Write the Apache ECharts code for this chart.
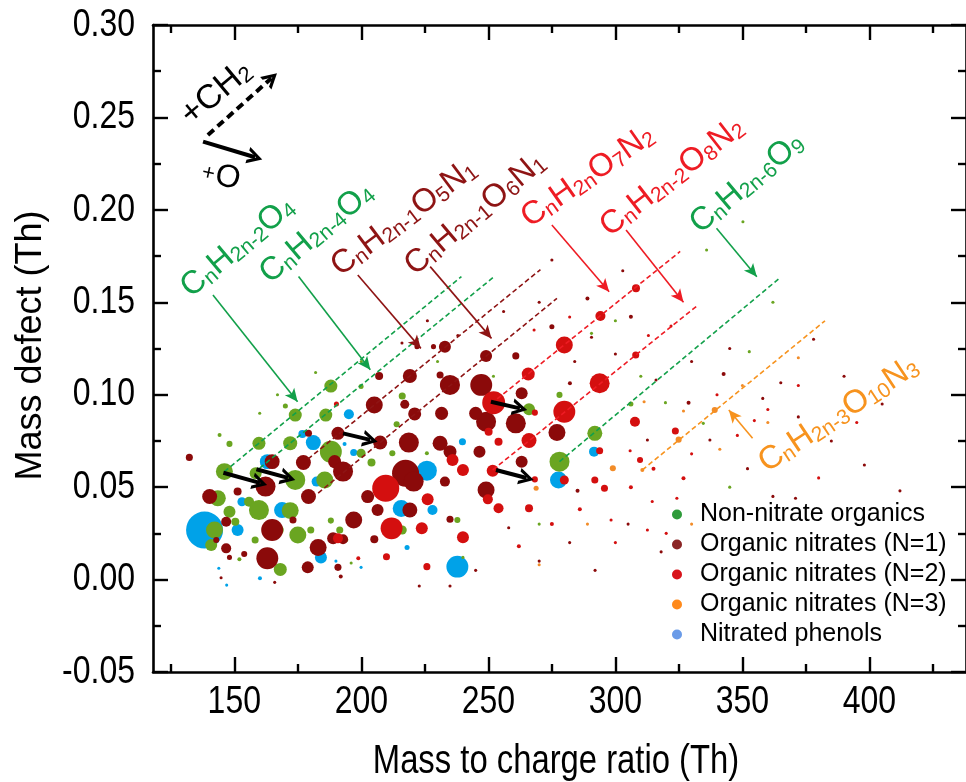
<!DOCTYPE html>
<html>
<head>
<meta charset="utf-8">
<title>Mass defect plot</title>
<script src="https://cdn.jsdelivr.net/npm/echarts@6/dist/echarts.min.js"></script>
<style>
html, body { margin: 0; padding: 0; background: #fff; }
#chart { width: 966px; height: 782px; }
</style>
</head>
<body>
<div id="chart"></div>
<script>
// values: [m/z (Th), mass defect (Th), relative signal]
var nonNitrate = [
  [146.1,0.0584,18],[148.1,0.0734,2.3],[144.2,0.0782,1],[159.7,0.0737,10.6],[172.0,0.0737,12.3],
  [174.0,0.0890,10.6],[170.1,0.0939,1.6],[188.0,0.1047,10.6],[186.0,0.0890,10.6],[188.0,0.0692,30],
  [185.6,0.0539,18],[174.0,0.0539,25],[158.4,0.0575,9],[199.9,0.1044,1.6],[216.1,0.0993,3.1],
  [213.9,0.0840,2.3],[199.9,0.0683,5.1],[204.0,0.0633,4],[212.2,0.0683,2.3],[143.5,0.0440,16],
  [148.1,0.0367,9],[142.2,0.0268,18],[140.9,0.0187,9],[150.4,0.0313,4],[155.8,0.0421,6.3],
  [159.7,0.0376,25],[172.0,0.0373,18],[167.5,0.0268,6.3],[158.2,0.0214,3.1],[168.1,0.0055,10.6],
  [175.0,0.0241,18],[180.1,0.0268,3.1],[188.0,0.0319,2.3],[191.5,0.0268,3.1],[194.1,0.0214,1],
  [216.1,0.0268,5.1],[237.8,0.0322,2.3],[152.0,0.0110,1],
  [266.0,0.0921,9],[278.0,0.0638,25],[291.9,0.0791,14],[278.0,0.0999,2.3],[225.8,0.0683,1],
  [319.7,0.0957,0.6],[352.7,0.1233,0.6],[306.1,0.0950,1.6],[334.6,0.0845,0.6],[335.9,0.1783,0.6],
  [350.2,0.1936,0.6],[290.6,0.1332,0.6],
  [200,0.118,0.6],[182,0.112,0.6],[160,0.090,0.6],[252,0.110,0.6],[310,0.110,0.6],[362,0.150,0.6],
  [300,0.140,0.6],[270,0.030,0.6],[240,0.012,0.6],[196,0.009,0.6],[345,0.050,0.6],[230,0.118,0.6],
  [167,0.100,0.6]
];
var nitrateN1 = [
  [132.3,0.0661,3.1],[164.9,0.0638,14],[179.2,0.0791,3.1],[190.8,0.0791,10.6],[177.2,0.0633,14],
  [189.5,0.0638,10.6],[192.8,0.0584,25],[162.3,0.0503,25],[205.1,0.0944,18],[207.0,0.1101,4],
  [219.1,0.1101,12.3],[217.1,0.0948,5.1],[221.0,0.0896,10.6],[207.4,0.0741,12.3],[218.7,0.0741,25],
  [217.4,0.0575,45.6],[220.6,0.0530,25],[231.6,0.0899,10.6],[232.9,0.1053,6.3],[231.0,0.1107,3.1],
  [231.0,0.0737,14],[232.9,0.0530,6.3],[140.3,0.0449,14],[179.2,0.0449,14],[202.5,0.0449,10.6],
  [221.9,0.1260,1.6],[228.4,0.1260,1.6],
  [146.8,0.0313,6.3],[142.9,0.0214,2.3],[151.3,0.0476,4],[164.9,0.0268,30],[146.8,0.0169,6.3],
  [153.9,0.0138,2.3],[163.0,0.0115,30],[183.0,0.0174,18],[178.9,0.0066,9],[173.1,0.0322,3.1],
  [188.9,0.0223,9],[192.8,0.0218,6.3],[190.8,0.0066,3.1],[197.0,0.0322,18],[206.4,0.0376,9],
  [205.1,0.0218,4],[219.1,0.0376,14],[234.9,0.0326,3.1],[144.8,0.0010,0.6],[165.9,-0.0015,0.6],
  [191.9,0.0016,1],[222.8,-0.0035,0.6],[234.9,-0.0035,0.6],[148.1,0.0120,1.6],
  [232.9,0.1260,9],[249.1,0.1210,9],[234.9,0.1053,25],[247.2,0.1053,30],[260.8,0.1210,3.1],
  [263.1,0.1008,9],[260.8,0.0845,25],[249.1,0.0854,25],[245.0,0.0899,10.6],[277.0,0.0795,18],
  [234.9,0.0692,10.6],[246.5,0.0692,9],[263.1,0.0638,9],[249.1,0.0485,18],[275.0,0.1368,1.6],
  [306.1,0.1422,1],[290.6,0.1311,0.6],[282.1,0.1062,1],[285.1,0.0481,1],
  [342.6,0.1112,1],[328.8,0.0957,1],[312.6,0.0755,0.6],[365.1,0.1065,0.6],[337.2,0.0755,0.6],
  [289.0,0.1521,1],[275.0,0.1729,0.6],[302.9,0.1671,0.6],[370.9,0.0440,0.6],
  [216,0.128,0.6],[226,0.140,0.6],[238,0.132,0.6],[256,0.145,0.6],[270,0.150,0.6],[284,0.118,0.6],
  [300,0.122,0.6],[316,0.108,0.6],[330,0.118,0.6],[345,0.125,0.6],[358,0.098,0.6],[372,0.088,0.6],
  [385,0.075,0.6],[398,0.062,0.6],[352,0.060,0.6],[362,0.045,0.6],[335,0.040,0.6],[318,0.015,0.6],
  [282,0.020,0.6],[270,0.010,0.6],[258,0.028,0.6],[245,0.005,0.6],[292,0.005,0.6],[305,0.030,0.6],
  [405,0.095,0.6],[412,0.048,0.6],[390,0.110,0.6],[378,0.130,0.6]
];
var nitrateN2 = [
  [209.6,0.0494,45.6],[190.8,0.0223,6.3],[211.9,0.0277,30],[209.9,0.0124,3.1],[226.1,0.0434,9],
  [223.8,0.0277,9],[240.0,0.0229,9],[225.8,0.0070,3.1],[198.8,0.0115,1],[190.2,0.0950,1.6],
  [265.7,0.1112,10.6],[279.9,0.1269,18],[294.1,0.1426,6.3],[252.1,0.0957,33],[268.3,0.0903,2.3],
  [250.1,0.0800,4],[279.9,0.0908,30],[293.8,0.1062,25],[266.0,0.0752,14],[254.0,0.0746,4],
  [235.9,0.0647,9],[240.0,0.0593,9],[251.7,0.0589,9],[268.3,0.0542,2.3],[249.8,0.0434,6.3],
  [254.0,0.0386,6.3],[266.0,0.0386,4],[279.9,0.0539,5.1],[293.8,0.0697,3.1],[307.7,0.0854,6.3],
  [291.9,0.0539,3.1],[309.7,0.0647,2.3],[323.6,0.0804,3.1],[321.9,0.1372,0.6],[295.7,0.0494,3.1],
  [306.1,0.0499,1],[326.8,0.0548,1],[308.1,0.1576,4],[308.0,0.1215,3.1],[354.7,0.0860,0.6],
  [305.8,0.0697,0.6],[314.5,0.0422,0.6],[324.2,0.0440,0.6],[298.3,0.0322,0.6],[312.6,0.0268,0.6],
  [262,0.018,1],[275,0.030,1],[286,0.038,1],[300,0.020,0.6],[315,0.060,1],[330,0.068,0.6],
  [348,0.078,0.6],[360,0.092,0.6],[372,0.105,0.6],[340,0.100,0.6],[282,0.142,0.6],[268,0.135,0.6],
  [313,0.132,0.6],[395,0.085,0.6],[380,0.055,0.6],[320,0.025,0.6]
];
var nitrateN3 = [
  [324.9,0.0757,2.3],[299.0,0.0602,2.3],[268.8,0.0494,1.6],[339.1,0.0917,2.3],[310.6,0.0593,1],
  [326.8,0.0912,0.6],[341.1,0.0705,0.6],[311.3,0.0962,0.6],[330,0.030,0.6],[350,0.105,0.6],
  [360,0.085,0.6],[372,0.120,0.6],[289,0.030,0.6],[270,0.008,0.6]
];
var nitroPhenols = [
  [163.0,0.0638,14],[176.8,0.0788,4],[181.1,0.0741,14],[195.1,0.0894,6.3],[182.4,0.0530,6.3],
  [197.0,0.0687,3.1],[225.8,0.0589,25],[138.3,0.0268,85.6],[151.3,0.0268,9],[153.0,0.0421,5.1],
  [168.8,0.0376,16],[184.1,0.0120,9],[215.7,0.0385,18],[237.8,0.0070,30],[143.9,0.0061,0.6],
  [160.1,0.0007,1],[199.9,0.0066,0.6],[218.0,0.0174,1.6],[228.0,0.0376,6.3],[239.8,0.0746,3.1],
  [277.6,0.0539,18],[291.6,0.0692,6.3],[193.4,0.0733,1],[147,-0.003,0.6],[190,0.010,0.6],[250,0.080,0.6]
];

var seriesNames = ['Non-nitrate organics', 'Organic nitrates (N=1)', 'Organic nitrates (N=2)',
  'Organic nitrates (N=3)', 'Nitrated phenols'];
var xMajorTicks = [150, 200, 250, 300, 350, 400];
var xMinorTicks = [125, 175, 225, 275, 325, 375, 425];
var yTickLabels = [-0.05, 0.00, 0.05, 0.10, 0.15, 0.20, 0.25, 0.30];
var xTitle = 'Mass to charge ratio (Th)';
var yTitle = 'Mass defect (Th)';

// homologous series (+CH2) lines, [m/z, mass defect] start and end
var lineG2O4 = [[146.1, 0.0584], [239.4, 0.1639]];
var lineG4O4 = [[160.0, 0.0603], [252.3, 0.1639]];
var lineO5N1 = [[179.0, 0.0652], [270.5, 0.1677]];
var lineO6N1 = [[183.0, 0.0468], [277.0, 0.1521]];
var lineO7N2 = [[251.0, 0.0950], [325.5, 0.1775]];
var lineO8N2 = [[251.7, 0.0593], [332.7, 0.1487]];
var lineG6O9 = [[278.0, 0.0638], [364.4, 0.1628]];
var lineO10N3 = [[310.6, 0.0593], [382.5, 0.1400]];

// formula labels: text, anchor [m/z, md], pointer [from m/z, md, to m/z, md]
var formulas = ['C_{n}H_{2n-2}O_{4}', 'C_{n}H_{2n-4}O_{4}', 'C_{n}H_{2n-1}O_{5}N_{1}', 'C_{n}H_{2n-1}O_{6}N_{1}',
  'C_{n}H_{2n}O_{7}N_{2}', 'C_{n}H_{2n-2}O_{8}N_{2}', 'C_{n}H_{2n-6}O_{9}', 'C_{n}H_{2n-3}O_{10}N_{3}'];
var labelAnchors = [[134.8,0.1491],[165.9,0.1567],[193.5,0.1605],[222.9,0.1609],
  [268.0,0.1869],[299.5,0.1820],[335.2,0.1837],[361.2,0.0544]];
var labelAngles = [40, 40, 37, 40, 35, 38, 40, 33.5];
var pointers = [[141.6,0.1540,176.5,0.0935],[175.3,0.1639,205.1,0.1107],[198.6,0.1648,225.1,0.1224],
  [227.1,0.1693,252.9,0.1278],[275.0,0.1918,299.2,0.1530],[304.2,0.1891,328.4,0.1473],
  [339.8,0.1900,357.3,0.1611],[354.0,0.0764,343.0,0.0944]];

// +O shifts between neighbouring peaks
var shiftArrows = [[145.7,0.0578,162.9,0.0512],[158.7,0.0597,174.0,0.0539],[192.8,0.0791,206.4,0.0746],
  [251.0,0.0962,265.3,0.0917],[253.0,0.0593,267.9,0.0539]];
// key in the top-left corner
var keyCH2 = [139.6, 0.2405, 166.8, 0.2739];
var keyO = [137.7, 0.2369, 161.0, 0.2273];
var keyCH2Anchor = [135.0, 0.2421];
var keyOAnchor = [136.0, 0.2118];

var GREEN = '#12A04A', DRED = '#8E1414', RED = '#EE1C24', ORANGE = '#F7931E';
var labelColors = [GREEN, GREEN, DRED, DRED, RED, RED, GREEN, ORANGE];
var SANS = "'Liberation Sans',Arial,Helvetica,sans-serif";
var CHEVRON = 'path://M6,0 L12,11 L9.4,11 L6,4.6 L2.6,11 L0,11 Z';
var NARROW_SCALE = 0.82;

var chart = echarts.init(document.getElementById('chart'), null, { renderer: 'canvas' });

function richFormula(f) {
  var out = '', re = /([^_]+)|_\{([^}]*)\}/g, m;
  while ((m = re.exec(f))) {
    out += m[1] ? '{m|' + m[1] + '}' : '{s|' + m[2] + '}';
  }
  return out;
}

function bubbles(name, data, color) {
  return {
    name: name, type: 'scatter', data: data, symbol: 'circle',
    symbolSize: function (v) { return 4 * Math.sqrt(v[2]); },
    itemStyle: { color: color, opacity: 1 },
    emphasis: { disabled: true }, silent: true, z: 2
  };
}

function dashed(pts, color) {
  return {
    type: 'line', data: pts, symbol: 'none', showSymbol: false, silent: true, z: 4,
    lineStyle: { color: color, width: 1.6, type: [5, 3] }, emphasis: { disabled: true }
  };
}

function axisX(pos, ticks, len, main) {
  return {
    type: 'value', position: pos, min: 118, max: 438,
    axisLine: { show: main, onZero: false, lineStyle: { color: '#000', width: 2.6 } },
    axisTick: { inside: true, length: len, customValues: ticks, lineStyle: { color: '#000', width: 2.4 } },
    axisLabel: { show: false },
    splitLine: { show: false }
  };
}

function axisY(pos) {
  return {
    type: 'value', position: pos, min: -0.05, max: 0.30, interval: 0.05,
    axisLine: { show: true, onZero: false, lineStyle: { color: '#000', width: 2.6 } },
    axisTick: { inside: true, length: 15, lineStyle: { color: '#000', width: 2.4 } },
    minorTick: { show: true, splitNumber: 2, length: 8, lineStyle: { color: '#000', width: 2.4 } },
    axisLabel: { show: false },
    splitLine: { show: false }, minorSplitLine: { show: false }
  };
}

var baseSeries = [
  bubbles(seriesNames[4], nitroPhenols, '#00A2E8'),
  bubbles(seriesNames[0], nonNitrate, '#6AA521'),
  bubbles(seriesNames[1], nitrateN1, '#8B0A0A'),
  bubbles(seriesNames[2], nitrateN2, '#D40F0F'),
  bubbles(seriesNames[3], nitrateN3, '#F28C28'),
  dashed(lineG2O4, GREEN), dashed(lineG4O4, GREEN), dashed(lineO5N1, DRED), dashed(lineO6N1, DRED),
  dashed(lineO7N2, RED), dashed(lineO8N2, RED), dashed(lineG6O9, GREEN), dashed(lineO10N3, ORANGE)
];

var option = {
  backgroundColor: '#fff',
  animation: false,
  grid: { left: 153, right: -10, top: 25, bottom: 110 },
  xAxis: [axisX('bottom', xMajorTicks, 15, true), axisX('bottom', xMinorTicks, 8, false),
    axisX('top', xMajorTicks, 15, true), axisX('top', xMinorTicks, 8, false)],
  yAxis: [axisY('left'), axisY('right')],
  legend: {
    orient: 'vertical', left: 667, top: 497, itemGap: 5, itemWidth: 36, itemHeight: 10,
    icon: 'circle', selectedMode: false,
    textStyle: { fontFamily: SANS, fontSize: 25, lineHeight: 24, color: '#000' },
    data: [
      { name: seriesNames[0], itemStyle: { color: '#2E9B3A' } },
      { name: seriesNames[1], itemStyle: { color: '#8B2525' } },
      { name: seriesNames[2], itemStyle: { color: '#D8141B' } },
      { name: seriesNames[3], itemStyle: { color: '#FF8A1C' } },
      { name: seriesNames[4], itemStyle: { color: '#6A9BE8' } }
    ]
  },
  series: baseSeries
};
chart.setOption(option);

function toPx(p) { return chart.convertToPixel({ xAxisIndex: 0, yAxisIndex: 0 }, p); }
function toData(p) { return chart.convertFromPixel({ xAxisIndex: 0, yAxisIndex: 0 }, p); }

// pull the end back so the arrow head tip sits on the given point
function arrows(list, color, width, symbol, size) {
  return {
    type: 'scatter', data: [], silent: true, z: 6,
    markLine: {
      silent: true, animation: false, symbol: ['none', symbol], symbolSize: size,
      label: { show: false }, emphasis: { disabled: true },
      lineStyle: { color: color, width: width, type: 'solid' }, itemStyle: { color: color },
      data: list.map(function (a) {
        var p1 = toPx([a[0], a[1]]), p2 = toPx([a[2], a[3]]);
        var dx = p2[0] - p1[0], dy = p2[1] - p1[1], len = Math.sqrt(dx * dx + dy * dy);
        var back = size[1] / 2;
        var end = toData([p2[0] - dx / len * back, p2[1] - dy / len * back]);
        var from = { coord: [a[0], a[1]] };
        if (a[4]) from.lineStyle = { type: a[4] };
        return [from, { coord: end }];
      })
    }
  };
}

var series = baseSeries.concat([
  arrows([pointers[0], pointers[1], pointers[6]], GREEN, 1.6, 'arrow', [9, 13]),
  arrows([pointers[2], pointers[3]], DRED, 1.6, 'arrow', [9, 13]),
  arrows([pointers[4], pointers[5]], RED, 1.6, 'arrow', [9, 13]),
  arrows([pointers[7]], ORANGE, 1.6, 'arrow', [9, 13]),
  arrows(shiftArrows.concat([keyCH2.concat([[8, 5]]), keyO]), '#000', 4, CHEVRON, [17, 15])
]);

var graphics = formulas.map(function (f, i) {
  var p = toPx(labelAnchors[i]);
  return {
    type: 'text', x: p[0], y: p[1], rotation: labelAngles[i] * Math.PI / 180, z: 10, silent: true,
    style: {
      text: richFormula(f), fill: labelColors[i], align: 'left', verticalAlign: 'bottom',
      rich: {
        m: { fontSize: 32.5, lineHeight: 33, fontFamily: SANS, verticalAlign: 'middle' },
        s: { fontSize: 21, lineHeight: 12, fontFamily: SANS, verticalAlign: 'bottom' }
      }
    }
  };
});
var pCH2 = toPx(keyCH2Anchor);
graphics.push({
  type: 'text', x: pCH2[0], y: pCH2[1], rotation: 40 * Math.PI / 180, z: 10, silent: true,
  style: { text: '{m|+CH}{s|2}', fill: '#000', align: 'left', verticalAlign: 'bottom',
    rich: { m: { fontSize: 34, lineHeight: 34, fontFamily: SANS, verticalAlign: 'middle' },
      s: { fontSize: 22, lineHeight: 12, fontFamily: SANS, verticalAlign: 'bottom' } } }
});
var pO = toPx(keyOAnchor);
graphics.push({
  type: 'text', x: pO[0], y: pO[1], rotation: -12 * Math.PI / 180, z: 10, silent: true,
  style: { text: '{p|+}{m|O}', fill: '#000', align: 'left', verticalAlign: 'bottom',
    rich: { m: { fontSize: 32, lineHeight: 32, fontFamily: SANS, verticalAlign: 'middle' },
      p: { fontSize: 22, lineHeight: 32, fontFamily: SANS, verticalAlign: 'middle', padding: [0, 1, 0, 0] } } }
});

// tick labels and axis titles (the source figure uses a condensed face)
xMajorTicks.forEach(function (v) {
  var p = toPx([v, -0.05]);
  graphics.push({ type: 'text', x: p[0], y: p[1] + 30, scaleX: NARROW_SCALE, silent: true,
    style: { text: String(v), fill: '#000', font: '39px ' + SANS, align: 'center', verticalAlign: 'middle' } });
});
yTickLabels.forEach(function (v) {
  var p = toPx([118, v]);
  graphics.push({ type: 'text', x: p[0] - 18, y: p[1], scaleX: NARROW_SCALE, silent: true,
    style: { text: v.toFixed(2), fill: '#000', font: '39px ' + SANS, align: 'right', verticalAlign: 'middle' } });
});
var pB = toPx([118, -0.05]), pT = toPx([438, 0.30]);
graphics.push({ type: 'text', x: 556, y: pB[1] + 90, scaleX: NARROW_SCALE, silent: true,
  style: { text: xTitle, fill: '#000', font: '40px ' + SANS, align: 'center', verticalAlign: 'middle' } });
graphics.push({ type: 'text', x: 31, y: (pB[1] + pT[1]) / 2 - 3, rotation: Math.PI / 2, silent: true,
  style: { text: yTitle, fill: '#000', font: '36px ' + SANS, align: 'center', verticalAlign: 'middle' } });

option.series = series;
option.graphic = graphics;
chart.setOption(option, true);
</script>
</body>
</html>
